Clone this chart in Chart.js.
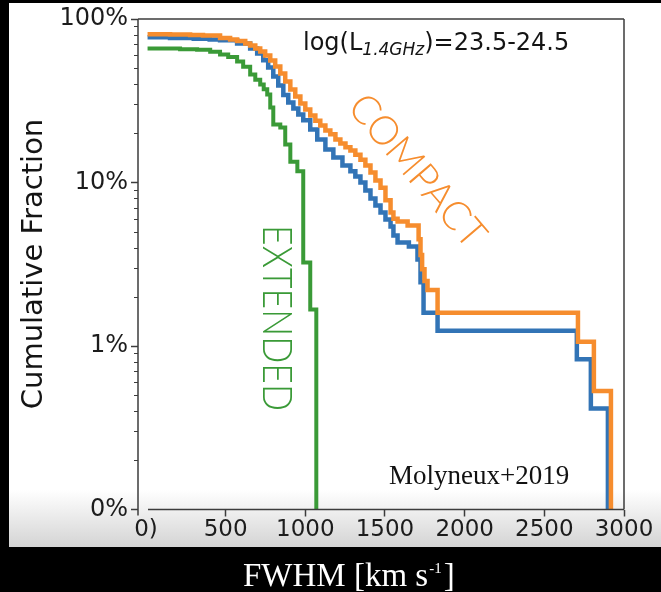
<!DOCTYPE html>
<html>
<head>
<meta charset="utf-8">
<script src="https://cdn.jsdelivr.net/npm/chart.js@4.4.1/dist/chart.umd.min.js"></script>
<style>
  html, body { margin: 0; padding: 0; background: #000; overflow: hidden; }
  #wrap { position: relative; width: 661px; height: 592px; }
</style>
</head>
<body>
<div id="wrap"><canvas id="c"></canvas></div>
<script>
// Cumulative fraction (%) of sources with line FWHM above each value (km/s).
// Each pair is a step: at fwhm[i] the curve drops to frac[i].
const compactFwhm = [10, 151, 277, 358, 465, 528, 572, 623, 654, 686, 717, 748, 780, 811, 843, 874, 906, 937, 969, 1000,
  1031, 1063, 1094, 1126, 1157, 1189, 1220, 1252, 1283, 1314, 1346, 1377, 1409, 1440, 1472, 1503, 1535, 1553, 1579, 1642,
  1711, 1723, 1733, 1748, 1767, 1830, 2711, 2811, 2918];
const compactFrac = [80.8, 80.4, 79.8, 79.3, 76.6, 75.0, 73.4, 70.8, 68.9, 66.0, 63.3, 59.8, 55.8, 51.2, 46.4, 41.5, 37.1, 33.6, 30.4, 28.0,
  25.7, 23.9, 22.3, 20.8, 19.7, 18.3, 17.3, 16.4, 15.7, 14.8, 13.8, 12.7, 11.5, 10.3, 9.3, 7.8, 6.55, 6.0, 5.77, 5.46,
  4.5, 3.6, 2.95, 2.5, 2.2, 1.6, 1.06, 0.53, 0.05];

const allFwhm = [10, 151, 300, 400, 465, 572, 654, 698, 736, 767, 799, 830, 862, 893, 925, 956, 987, 1031, 1075, 1126,
  1176, 1233, 1283, 1314, 1346, 1377, 1409, 1440, 1472, 1503, 1535, 1553, 1579, 1650, 1704, 1723, 1742, 1830, 2704, 2792, 2899];
const allFrac = [77.2, 76.4, 75.8, 75.0, 74.2, 70.8, 66.0, 61.5, 56.0, 50.5, 44.5, 39.2, 34.3, 30.9, 28.4, 26.1, 24.0, 21.1, 18.3, 15.9,
  14.2, 12.7, 11.7, 10.9, 10.0, 8.93, 7.98, 7.23, 6.55, 5.94, 5.38, 4.74, 4.3, 4.06, 3.38, 2.45, 1.6, 1.24, 0.83, 0.415, 0.05];

const extendedFwhm = [10, 214, 321, 403, 465, 516, 572, 610, 654, 686, 717, 739, 761, 780, 799, 843, 874, 906, 950, 987, 1031, 1069];
const extendedFrac = [66.0, 65.3, 64.9, 63.0, 60.7, 58.5, 55.0, 51.0, 45.8, 42.5, 39.7, 37.2, 34.5, 28.8, 22.6, 21.7, 17.1, 13.4, 11.7, 3.24, 1.67, 0.05];

const xTickValues = [0, 500, 1000, 1500, 2000, 2500, 3000];
const xTickLabels = ['0)', '500', '1000', '1500', '2000', '2500', '3000'];
const yTickValues = [0.1, 1, 10, 100];
const yTickLabels = ['0%', '1%', '10%', '100%'];
const yMinorTicks = [0.2, 0.3, 0.4, 0.5, 0.6, 0.7, 0.8, 0.9, 2, 3, 4, 5, 6, 7, 8, 9, 20, 30, 40, 50, 60, 70, 80, 90];

const ORANGE = '#f68d2e';
const BLUE = '#3274b6';
const GREEN = '#3a9a37';
const SPINE = '#3c3c3c';

function toPoints(xs, ys) {
  return xs.map((x, i) => ({ x: x, y: ys[i] }));
}

const decor = {
  id: 'decor',
  beforeDraw(chart) {
    const ctx = chart.ctx;
    ctx.save();
    ctx.fillStyle = '#000';
    ctx.fillRect(0, 0, chart.width, chart.height);
    ctx.fillStyle = '#fff';
    ctx.fillRect(9, 3, chart.width - 9, 490);
    const g = ctx.createLinearGradient(0, 490, 0, 547);
    g.addColorStop(0, '#ffffff');
    g.addColorStop(1, '#d4d4d4');
    ctx.fillStyle = g;
    ctx.fillRect(9, 490, chart.width - 9, 57);
    ctx.restore();
  },
  afterDraw(chart) {
    const ctx = chart.ctx;
    const a = chart.chartArea;
    const yScale = chart.scales.y;
    ctx.save();

    // frame
    ctx.strokeStyle = SPINE;
    ctx.lineWidth = 1.5;
    ctx.beginPath();
    ctx.moveTo(a.left, a.top); ctx.lineTo(a.right, a.top);
    ctx.moveTo(a.right, a.top); ctx.lineTo(a.right, a.bottom);
    ctx.moveTo(a.left + 10, a.bottom); ctx.lineTo(a.right, a.bottom);
    ctx.moveTo(a.left, a.top); ctx.lineTo(a.left, a.bottom + 6);
    ctx.stroke();

    // minor ticks on the log axis
    ctx.lineWidth = 1.2;
    ctx.beginPath();
    yMinorTicks.forEach(v => {
      const py = Math.round(yScale.getPixelForValue(v)) + 0.5;
      ctx.moveTo(a.left - 4, py); ctx.lineTo(a.left, py);
    });
    ctx.stroke();

    // y axis title
    ctx.fillStyle = '#141414';
    ctx.font = '29px "DejaVu Sans"';
    ctx.textAlign = 'center';
    ctx.textBaseline = 'alphabetic';
    ctx.save();
    ctx.translate(42, 264);
    ctx.rotate(-Math.PI / 2);
    ctx.fillText('Cumulative Fraction', 0, 0);
    ctx.restore();

    // luminosity bin label with subscript
    ctx.textAlign = 'left';
    let x = 303;
    ctx.font = '24px "DejaVu Sans"';
    ctx.fillText('log(L', x, 50);
    x += ctx.measureText('log(L').width;
    ctx.font = 'italic 17px "DejaVu Sans"';
    ctx.fillText('1.4GHz', x, 55);
    x += ctx.measureText('1.4GHz').width;
    ctx.font = '24px "DejaVu Sans"';
    ctx.fillText(')=23.5-24.5', x, 50);

    // curve labels
    function stretchedLabel(text, cx, cy, angle, size, length, color) {
      ctx.save();
      ctx.font = '300 ' + size + 'px Lato';
      ctx.fillStyle = color;
      ctx.textAlign = 'center';
      ctx.textBaseline = 'middle';
      ctx.translate(cx, cy);
      ctx.rotate(angle);
      const w = ctx.measureText(text).width;
      ctx.scale(length / w, 1);
      ctx.fillText(text, 0, 0);
      ctx.restore();
    }
    stretchedLabel('COMPACT', 417, 171, 49.5 * Math.PI / 180, 40, 188, ORANGE);
    stretchedLabel('EXTENDED', 277, 318, Math.PI / 2, 42, 186, GREEN);

    // reference
    ctx.fillStyle = '#111';
    ctx.font = '27px "Liberation Serif"';
    ctx.textAlign = 'left';
    ctx.textBaseline = 'alphabetic';
    ctx.fillText('Molyneux+2019', 389, 484);

    // x axis title below the panel
    ctx.fillStyle = '#fff';
    x = 243;
    ctx.font = '33px "Liberation Serif"';
    ctx.fillText('FWHM [km s', x, 586);
    x += ctx.measureText('FWHM [km s').width + 1;
    ctx.font = '15px "Liberation Serif"';
    ctx.fillText('-1', x, 573);
    x += ctx.measureText('-1').width + 2;
    ctx.font = '33px "Liberation Serif"';
    ctx.fillText(']', x, 586);

    ctx.restore();
  }
};

new Chart(document.getElementById('c'), {
  type: 'line',
  data: {
    datasets: [
      { label: 'COMPACT', data: toPoints(compactFwhm, compactFrac), borderColor: ORANGE },
      { label: 'ALL', data: toPoints(allFwhm, allFrac), borderColor: BLUE },
      { label: 'EXTENDED', data: toPoints(extendedFwhm, extendedFrac), borderColor: GREEN, borderWidth: 4 }
    ]
  },
  options: {
    responsive: true,
    maintainAspectRatio: false,
    animation: false,
    events: [],
    layout: { padding: { left: 0, top: 19, right: 37, bottom: 0 } },
    datasets: {
      line: { stepped: 'before', pointRadius: 0, borderWidth: 4.5, fill: false, clip: 0 }
    },
    plugins: { legend: { display: false }, tooltip: { enabled: false } },
    scales: {
      x: {
        type: 'linear',
        min: -50,
        max: 3000,
        afterFit: s => { s.height = 82.5; },
        afterBuildTicks: s => { s.ticks = xTickValues.map(v => ({ value: v })); },
        ticks: {
          autoSkip: false,
          maxRotation: 0,
          padding: 0,
          color: '#1c1c1c',
          font: { family: 'DejaVu Sans', size: 23 },
          callback: v => { const i = xTickValues.indexOf(v); return i >= 0 ? xTickLabels[i] : ''; }
        },
        grid: {
          drawOnChartArea: false,
          tickLength: 7,
          tickWidth: 1.5,
          tickColor: c => (c.tick && c.tick.value === 0) ? 'rgba(0,0,0,0)' : SPINE
        },
        border: { display: false }
      },
      y: {
        type: 'logarithmic',
        min: 0.1,
        max: 100,
        afterFit: s => { s.width = 138; },
        afterBuildTicks: s => { s.ticks = yTickValues.map(v => ({ value: v, major: true })); },
        ticks: {
          autoSkip: false,
          padding: 3,
          color: '#1c1c1c',
          font: { family: 'DejaVu Sans', size: 24 },
          callback: v => {
            const i = yTickValues.findIndex(t => Math.abs(Math.log10(t) - Math.log10(v)) < 1e-6);
            return i >= 0 ? yTickLabels[i] : '';
          }
        },
        grid: { drawOnChartArea: false, tickLength: 7, tickWidth: 1.5, tickColor: SPINE },
        border: { display: false }
      }
    }
  },
  plugins: [decor]
});
</script>
</body>
</html>
